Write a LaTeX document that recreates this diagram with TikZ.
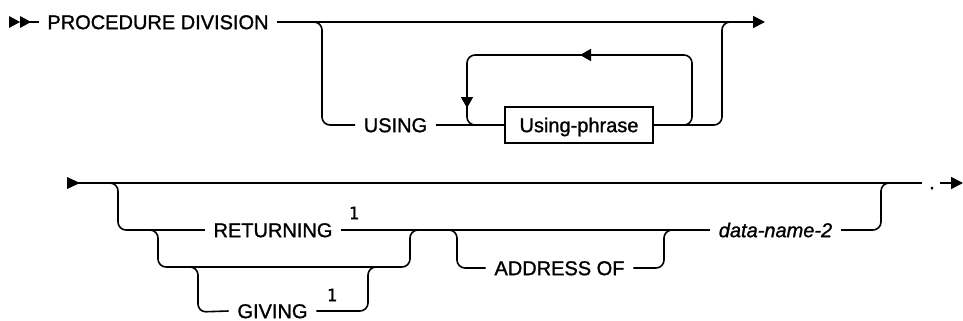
\documentclass[tikz,border=0pt]{standalone}
\usepackage{fontspec}
\setmainfont{Liberation Sans}
\newfontfamily\kwfont{Liberation Sans}[FakeBold=1.2]
\newfontfamily\supfont{DejaVu Sans Mono}[FakeBold=1]
\usetikzlibrary{arrows.meta}
\begin{document}
\begin{tikzpicture}[x=1pt,y=-1pt, line width=1.6pt,
  rr/.style={rounded corners=8pt},
  kwd/.style={font=\kwfont\fontsize{20}{24}\selectfont, inner xsep=8pt, inner ysep=0pt, text height=14.3pt, text depth=0pt},
  varname/.style={kwd, font=\kwfont\fontsize{20}{24}\selectfont\itshape},
  supnum/.style={font=\supfont\fontsize{17}{20}\selectfont, inner sep=0pt},
  phrasebox/.style={draw, kwd, minimum width=148pt, minimum height=36pt, line width=1.4pt},
  endarrow/.style={-{Triangle[length=12pt,width=12pt]}},
  looparrow/.style={-{Triangle[length=11pt,width=12pt]}}]
\useasboundingbox (0,0) rectangle (963,321);
% ---------- row 1 ----------
\node[kwd] (pd) at (158,22) {PROCEDURE DIVISION};
\node[kwd] (using) at (395.5,125) {USING};
\node[phrasebox] (up) at (579,125) {Using-phrase};
\coordinate (st) at (20,22);
\fill (9,16) -- (20,22) -- (9,28) -- cycle;
\fill (20,16) -- (31,22) -- (20,28) -- cycle;
\draw (st) -- (pd.west);
\coordinate (e1) at (765,22);
\draw[endarrow] (pd.east) -- (e1);
\draw[rr] (310,22) -| (322,125) -- (using.west);
\draw (using.east) -- (up.west);
\draw[rr] (up.east) -| (722,22) -- (736,22);
\draw[rr, looparrow] (up.east) -| (692,55) -- (580,55);
\draw[rr, looparrow] (590,55) -| (467,108);
\draw[rr] (467,100) |- (up.west);
% ---------- row 2 ----------
\coordinate (st2) at (67,183);
\fill (67,177) -- (80,183) -- (67,189) -- cycle;
\coordinate (m2) at (922,183);
\draw (st2) -- (m2);
\node[kwd, inner xsep=0pt] (dot) at (932,182) {.};
\coordinate (e2) at (963,183);
\draw[endarrow] (940,183) -- (e2);
\node[kwd] (ret) at (273,230) {RETURNING};
\node[supnum] (s1) at (354,213) {1};
\node[kwd] (giv) at (272.5,311) {GIVING};
\node[supnum] (s2) at (332,295) {1};
\node[kwd] (addr) at (559.5,268) {ADDRESS OF};
\node[varname] (dn) at (775.5,230) {data-name-2};
\draw[rr] (108,183) -| (118,230) -- (ret.west);
\draw (ret.east) -- (dn.west);
\draw[rr] (148,230) -| (158,267) -| (410,230) -- (420,230);
\draw[rr] (188,267) -| (198,312) -- (giv.west);
\draw[rr] (giv.east) -| (368,267) -- (378,267);
\draw[rr] (445,230) -| (457,268) -- (addr.west);
\draw[rr] (addr.east) -| (664,230) -- (674,230);
\draw[rr] (dn.east) -| (881,183) -- (893,183);
\end{tikzpicture}
\end{document}
